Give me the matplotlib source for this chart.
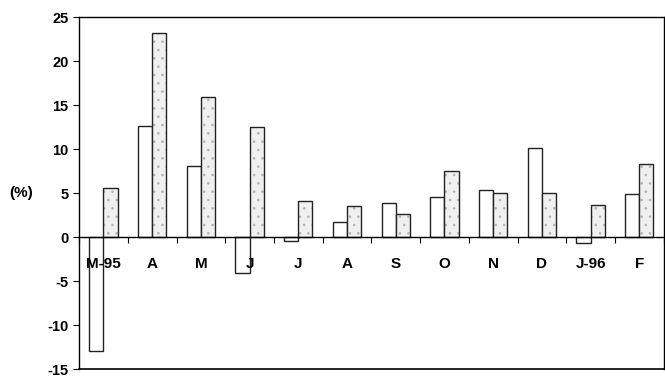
import numpy as np
import matplotlib
matplotlib.use('Agg')
import matplotlib.pyplot as plt

# data
months = ['M-95', 'A', 'M', 'J', 'J', 'A', 'S', 'O', 'N', 'D', 'J-96', 'F']
series_a = [-12.9, 12.7, 8.1, -4.0, -0.4, 1.7, 3.9, 4.6, 5.4, 10.2, -0.7, 4.9]
series_b = [5.6, 23.2, 16.0, 12.5, 4.1, 3.6, 2.6, 7.5, 5.0, 5.0, 3.7, 8.3]
yticks = [-15, -10, -5, 0, 5, 10, 15, 20, 25]

plt.rcParams['font.family'] = ['Liberation Sans', 'DejaVu Sans']
plt.rcParams['axes.unicode_minus'] = False
plt.rcParams['hatch.linewidth'] = 0.6

fig = plt.figure(figsize=(6.65, 3.78), dpi=100)
ax = fig.add_axes([0.119, 0.023, 0.879, 0.931])

x = np.arange(len(months)) + 0.5
w = 0.29
ax.bar(x - w / 2, series_a, w, color='white', edgecolor='#222222', linewidth=1.0, zorder=2)
# stippled fill for the second series, then its outline
ax.bar(x + w / 2, series_b, w, color='#f0f0f0', edgecolor='#b0b0b0', linewidth=0,
       hatch='..', zorder=2)
ax.bar(x + w / 2, series_b, w, fill=False, edgecolor='#222222', linewidth=1.0, zorder=2)

ax.set_xlim(0, len(months))
ax.set_ylim(-15, 25)
ax.set_axisbelow(False)

# zero line carries the category ticks, labels sit just below it
ax.spines['bottom'].set_position(('data', 0))
ax.set_xticks(np.arange(len(months) + 1))
ax.set_xticklabels([])
ax.set_xticks(x, minor=True)
ax.set_xticklabels(months, minor=True, fontsize=11, fontweight='bold')
ax.tick_params(axis='x', which='major', direction='out', length=4, width=0.8)
ax.tick_params(axis='x', which='minor', length=0, pad=14)
ax.axhline(-15, color='black', linewidth=1.2, clip_on=False)

ax.set_yticks(yticks)
ax.set_yticklabels([str(v) for v in yticks], fontsize=10.5, fontweight='bold')
ax.tick_params(axis='y', direction='out', length=4, width=0.8)
for s in ax.spines.values():
    s.set_linewidth(1.0)

ax.set_ylabel('(%)', rotation=0, fontsize=11, fontweight='bold', va='center')
ax.yaxis.set_label_coords(-0.1, 0.5)

fig.savefig('out.png', dpi=100)
